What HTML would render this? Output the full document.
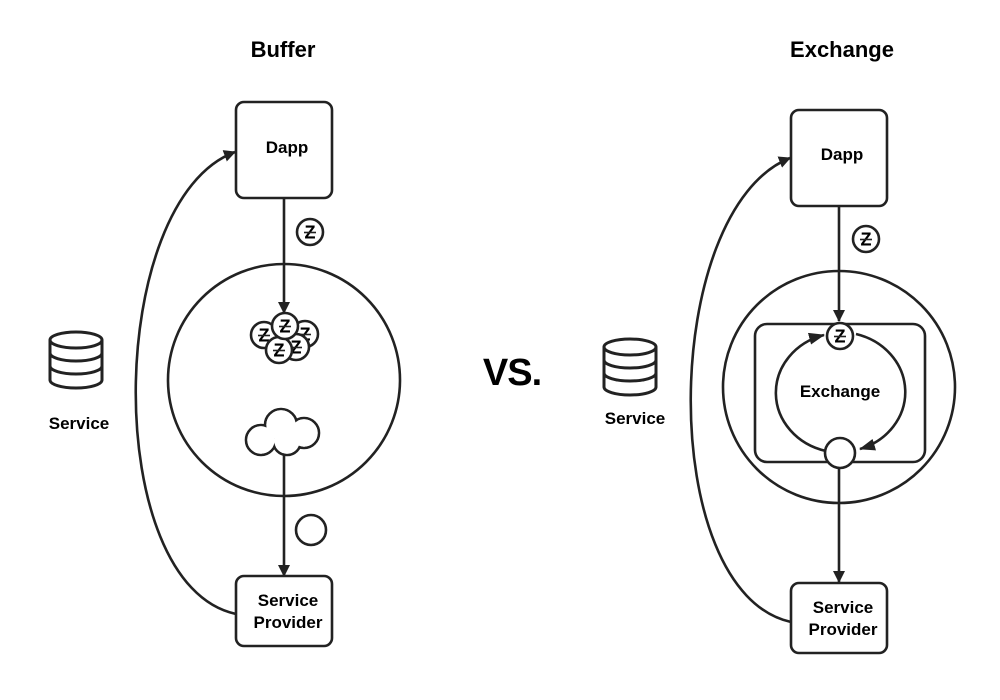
<!DOCTYPE html>
<html><head><meta charset="utf-8"><style>
html,body{margin:0;padding:0;background:#fff;}
svg{display:block;}
text{font-family:"Liberation Sans",sans-serif;font-weight:bold;fill:#000;}
</style></head><body>
<svg width="1000" height="700" viewBox="0 0 1000 700" xmlns="http://www.w3.org/2000/svg">
<defs>
<marker id="ah" markerWidth="12" markerHeight="12" refX="11" refY="6" orient="auto" markerUnits="userSpaceOnUse">
<path d="M0,0 L12,6 L0,12 z" fill="#222"/>
</marker>
<marker id="ah2" markerWidth="16" markerHeight="12" refX="15" refY="6" orient="auto" markerUnits="userSpaceOnUse">
<path d="M0,0 L16,6 L0,12 z" fill="#222"/>
</marker>
<g id="coin">
<circle r="13" fill="#fff" stroke="#222" stroke-width="2.6"/>
<text x="0" y="6.5" font-size="18" text-anchor="middle">Z</text>
<line x1="-6" y1="0.5" x2="6" y2="0.5" stroke="#fff" stroke-width="1"/>
<line x1="-6" y1="0.5" x2="6" y2="0.5" stroke="#222" stroke-width="1.6"/>
</g>
<g id="db" fill="#fff" stroke="#222" stroke-width="3">
<path d="M-26,-20 L-26,20 A26,8 0 0 0 26,20 L26,-20"/>
<path d="M-26,-7 A26,8 0 0 0 26,-7" fill="none"/>
<path d="M-26,6 A26,8 0 0 0 26,6" fill="none"/>
<ellipse cx="0" cy="-20" rx="26" ry="8"/>
</g>
</defs>
<g stroke="#222" stroke-width="2.6" fill="none">
<!-- Buffer -->
<rect x="236" y="102" width="96" height="96" rx="8" fill="#fff"/>
<circle cx="284" cy="380" r="116"/>
<line x1="284" y1="198" x2="284" y2="313" marker-end="url(#ah)"/>
<line x1="284" y1="452" x2="284" y2="576" marker-end="url(#ah)"/>
<rect x="236" y="576" width="96" height="70" rx="8" fill="#fff"/>
<path d="M236,614 C100,585 105,200 235,152" marker-end="url(#ah)"/>
<circle cx="311" cy="530" r="15"/>
<!-- cloud -->
<circle cx="261" cy="440" r="15"/>
<circle cx="281" cy="425" r="16"/>
<circle cx="304" cy="433" r="15"/>
<circle cx="287" cy="441" r="14"/>
<g fill="#fff" stroke="none">
<circle cx="261" cy="440" r="13.7"/>
<circle cx="281" cy="425" r="14.7"/>
<circle cx="304" cy="433" r="13.7"/>
<circle cx="287" cy="441" r="12.7"/>
</g>
<!-- Exchange -->
<rect x="791" y="110" width="96" height="96" rx="8" fill="#fff"/>
<circle cx="839" cy="387" r="116"/>
<rect x="755" y="324" width="170" height="138" rx="12"/>
<line x1="839" y1="206" x2="839" y2="321" marker-end="url(#ah)"/>
<line x1="839" y1="468" x2="839" y2="582" marker-end="url(#ah)"/>
<rect x="791" y="583" width="96" height="70" rx="8" fill="#fff"/>
<path d="M791,622 C655,592 660,210 790,158" marker-end="url(#ah)"/>
<path d="M826,451 A66,60 0 0 1 824,335" marker-end="url(#ah2)"/>
<path d="M856,334 A66,60 0 0 1 860,449" marker-end="url(#ah2)"/>
<circle cx="840" cy="453" r="15" fill="#fff"/>
</g>
<use href="#coin" x="310" y="232"/>
<use href="#coin" x="264" y="335"/>
<use href="#coin" x="305" y="334"/>
<use href="#coin" x="296" y="347"/>
<use href="#coin" x="279" y="350"/>
<use href="#coin" x="285" y="326"/>
<use href="#coin" x="866" y="239"/>
<use href="#coin" x="840" y="336"/>
<use href="#db" x="76" y="360"/>
<use href="#db" x="630" y="367"/>
<text x="283" y="57" font-size="22" text-anchor="middle">Buffer</text>
<text x="842" y="57" font-size="22" text-anchor="middle">Exchange</text>
<text x="287" y="153" font-size="17" text-anchor="middle">Dapp</text>
<text x="842" y="160" font-size="17" text-anchor="middle">Dapp</text>
<text x="288" y="606" font-size="17" text-anchor="middle">Service</text>
<text x="288" y="628" font-size="17" text-anchor="middle">Provider</text>
<text x="843" y="613" font-size="17" text-anchor="middle">Service</text>
<text x="843" y="635" font-size="17" text-anchor="middle">Provider</text>
<text x="79" y="429" font-size="17" text-anchor="middle">Service</text>
<text x="635" y="424" font-size="17" text-anchor="middle">Service</text>
<text x="840" y="397" font-size="17" text-anchor="middle">Exchange</text>
<text x="512" y="385" font-size="38" text-anchor="middle" letter-spacing="-1">VS.</text>
</svg>
</body></html>
